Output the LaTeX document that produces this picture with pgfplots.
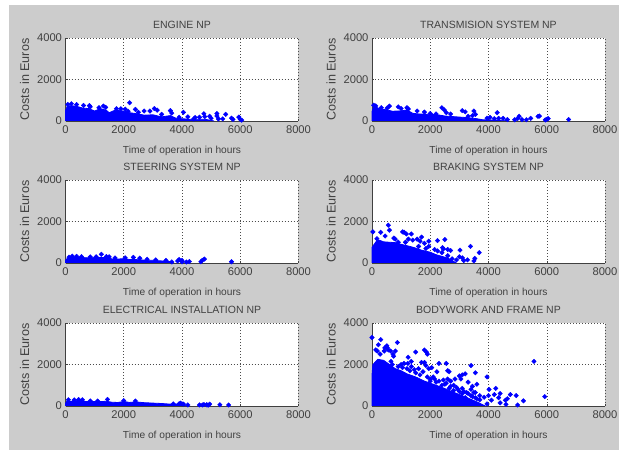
\documentclass[border=0pt]{standalone}
\usepackage{fontspec}
\setmainfont{Liberation Sans}
\usepackage{pgfplots}
\pgfplotsset{compat=1.18}
\definecolor{figgray}{RGB}{204,204,204}
\definecolor{txt}{RGB}{65,65,65}
\pgfplotsset{
  panel/.style={
    scale only axis, width=233pt, height=83pt, anchor=south west,
    xmin=0, xmax=8000, ymin=0, ymax=4000,
    xtick={0,2000,4000,6000,8000}, ytick={0,2000,4000},
    axis background/.style={fill=white},
    axis x line=bottom, axis y line=left,
    axis line style={-, line width=0.7pt, color=black!75},
    tick align=inside, major tick length=2pt,
    tick style={black!75, line width=0.4pt},
    grid=major,
    grid style={dash pattern=on 0.8pt off 2.2pt, line width=0.5pt, black!70},
    every tick label/.append style={font=\fontsize{11.2}{13}\selectfont, text=txt},
    xticklabel style={yshift=-1pt},
    /pgf/number format/assume math mode=true,
    /pgf/number format/1000 sep={},
    scaled ticks=false,
    xlabel={Time of operation in hours}, ylabel={Costs in Euros},
    xlabel style={font=\fontsize{10.2}{13}\selectfont, text=txt, yshift=-6pt},
    ylabel style={font=\fontsize{12.6}{14}\selectfont, text=txt, yshift=1pt},
    title style={font=\fontsize{10.5}{13}\selectfont, text=txt, yshift=0pt},
    axis on top=false, clip=false
  },
  mass/.style={draw=blue, fill=blue, line width=0.8pt, forget plot},
  pts/.style={only marks, mark=square*, mark size=1.6pt, color=blue, mark options={fill=blue, draw=blue, rotate=45}, forget plot}
}
\begin{document}
\begin{tikzpicture}
\path[use as bounding box] (0pt,0pt) rectangle (619pt,450pt);
\fill[figgray] (9pt,0pt) rectangle (619pt,445pt);
% ---- row 1
\begin{axis}[panel, at={(65.5pt,329pt)}, title={ENGINE NP}]
\addplot[mass] coordinates {(0,0)(0,500)(60,720)(200,740)(400,700)(600,620)(800,600)(1000,480)(1200,600)(1400,520)(1500,400)(1700,520)(2000,480)(2200,400)(2500,340)(2700,280)(3000,300)(3300,200)(3600,260)(3800,130)(4000,110)(4300,80)(4800,80)(5000,30)(5100,0)};
\addplot[pts] coordinates {(80,800)(200,830)(380,790)(620,750)(820,740)(850,680)(1150,640)(1300,720)(1380,660)(1750,590)(1900,590)(2050,570)(2150,470)(2200,880)(2400,560)(2500,420)(2700,480)(2900,480)(3050,600)(3150,520)(3300,320)(3600,500)(3650,380)(3900,180)(4050,420)(4200,200)(4400,100)(4450,170)(4600,180)(4750,350)(4780,210)(4950,230)(5200,240)(5200,360)(5400,100)(5500,320)(5700,140)(5750,80)(5950,190)(6000,80)(6050,40)(5000,130)(5250,100)};
\end{axis}
\begin{axis}[panel, at={(372pt,329pt)}, title={TRANSMISION SYSTEM NP}]
\addplot[mass] coordinates {(0,0)(0,450)(50,680)(150,660)(300,570)(500,540)(700,470)(1000,490)(1200,530)(1400,370)(1600,340)(2000,320)(2300,290)(2500,240)(3000,190)(3300,160)(3600,110)(3800,60)(4600,30)(4700,0)};
\addplot[pts] coordinates {(60,760)(130,730)(320,640)(520,620)(600,720)(900,680)(1000,600)(1200,640)(1250,580)(1550,480)(1800,430)(2000,360)(2200,340)(2400,640)(2480,540)(2550,400)(2700,340)(3100,500)(3200,440)(3300,230)(3500,480)(3450,260)(3550,320)(3950,140)(4050,170)(4200,110)(4300,400)(4350,130)(4500,130)(4650,70)(5000,120)(5050,230)(5150,70)(5300,60)(5450,130)(5700,220)(5750,240)(6000,80)(6050,120)(5950,50)(6750,70)(4900,60)};
\end{axis}
% ---- row 2
\begin{axis}[panel, at={(65.5pt,187pt)}, title={STEERING SYSTEM NP}]
\addplot[mass] coordinates {(0,0)(0,130)(60,220)(200,270)(400,260)(600,260)(800,250)(1000,260)(1200,270)(1500,250)(1600,190)(1800,190)(2000,210)(2200,170)(2500,160)(2800,130)(3000,130)(3300,100)(3600,70)(3700,0)};
\addplot[pts] coordinates {(120,280)(230,330)(380,320)(550,310)(850,290)(1050,300)(1230,420)(1400,310)(1700,240)(2050,250)(2330,270)(2550,230)(2800,180)(3100,150)(3650,50)(3850,100)(3900,170)(4000,60)(4000,130)(4150,50)(4250,70)(4650,60)(4700,130)(4770,190)(5700,60)(1500,300)(3450,120)};
\end{axis}
\begin{axis}[panel, at={(372pt,187pt)}, title={BRAKING SYSTEM NP}]
\addplot[mass] coordinates {(0,0)(0,750)(50,850)(150,1050)(250,1100)(400,1020)(600,1000)(800,980)(1000,900)(1300,800)(1500,720)(1700,620)(2000,520)(2200,400)(2400,320)(2600,240)(2800,80)(2900,0)};
\addplot[pts] coordinates {(30,1500)(170,1170)(300,1480)(450,1300)(560,1820)(600,1580)(750,1200)(800,1150)(900,1000)(1050,1500)(1100,1480)(1180,1400)(1350,1400)(1250,1150)(1150,1000)(1400,1100)(1550,1150)(1650,1050)(1700,1250)(1800,950)(1950,1050)(1950,800)(2250,1080)(2500,1130)(2150,650)(2250,580)(2400,500)(2420,740)(2450,680)(2600,650)(2700,600)(3020,620)(3000,300)(2900,150)(3100,250)(3150,120)(3280,150)(3380,800)(3500,100)(3530,220)(3680,500)(2750,200)(2600,350)(1600,800)(1850,700)};
\end{axis}
% ---- row 3
\begin{axis}[panel, at={(65.5pt,44pt)}, title={ELECTRICAL INSTALLATION NP}]
\addplot[mass] coordinates {(0,0)(0,130)(50,240)(200,230)(400,260)(600,260)(700,210)(1000,220)(1200,210)(1400,230)(1600,180)(1800,170)(2000,220)(2200,170)(2400,200)(2700,160)(3000,140)(3300,120)(3600,90)(4000,90)(4150,0)};
\addplot[pts] coordinates {(100,300)(300,290)(450,310)(580,300)(850,240)(1100,240)(1440,320)(2000,260)(2400,240)(3700,100)(3900,110)(3950,140)(4000,100)(4050,90)(4200,50)(4600,50)(4700,50)(4750,70)(4850,60)(4950,90)(4900,40)(5300,60)(5600,50)};
\end{axis}
\begin{axis}[panel, at={(372pt,44pt)}, title={BODYWORK AND FRAME NP}]
\addplot[mass] coordinates {(0,0)(0,1500)(30,2000)(200,2250)(400,2200)(600,2000)(800,1800)(1000,1700)(1200,1550)(1500,1400)(1800,1200)(2100,1050)(2400,900)(2700,720)(3000,550)(3300,380)(3600,200)(3800,60)(3900,0)};
\addplot[pts] coordinates {(0,3300)(300,3200)(220,2950)(510,2900)(530,2800)(560,2700)(640,2650)(870,3060)(800,2650)(720,2500)(740,2400)(130,2700)(180,2650)(280,2500)(420,2650)(440,2800)(1240,2350)(1350,2150)(1500,2600)(1800,2700)(1870,2600)(1900,2500)(1100,2050)(1230,2050)(1000,2000)(1350,1900)(1450,1750)(1600,1800)(1700,2100)(1800,2100)(1850,1950)(1950,1800)(2050,1850)(2300,2050)(2550,2050)(2230,1650)(2600,1700)(2650,1650)(2450,1250)(2600,1300)(2700,1200)(2850,1300)(3000,1450)(3100,1500)(3200,1550)(3050,1300)(3400,1950)(3550,1600)(3950,1400)(3300,1150)(3600,1050)(3450,950)(2900,900)(3100,850)(3400,800)(3250,650)(3500,650)(3700,500)(3550,650)(3850,420)(4000,500)(4020,800)(4250,850)(4200,550)(4400,600)(4350,400)(4400,150)(4600,80)(4100,280)(3950,100)(3700,300)(4750,550)(4650,350)(4580,280)(4950,500)(5000,50)(5200,250)(5560,2150)(5930,450)(2000,1300)(2200,1150)(2800,750)(3200,400)(3450,450)(3600,350)(3300,600)(1500,1600)(1900,1400)(900,1900)(1200,1800)(650,2150)(2100,1400)(2300,1200)(2500,1050)(2700,950)(2950,800)(3150,700)(700,2000)(1050,1850)(1300,1700)(1650,1500)(1750,1650)(2000,1200)(2150,1300)(2400,1000)(2550,1100)(2650,850)(2800,1000)(3000,700)(3100,600)(3400,500)(3550,400)};
\end{axis}
\end{tikzpicture}
\end{document}
